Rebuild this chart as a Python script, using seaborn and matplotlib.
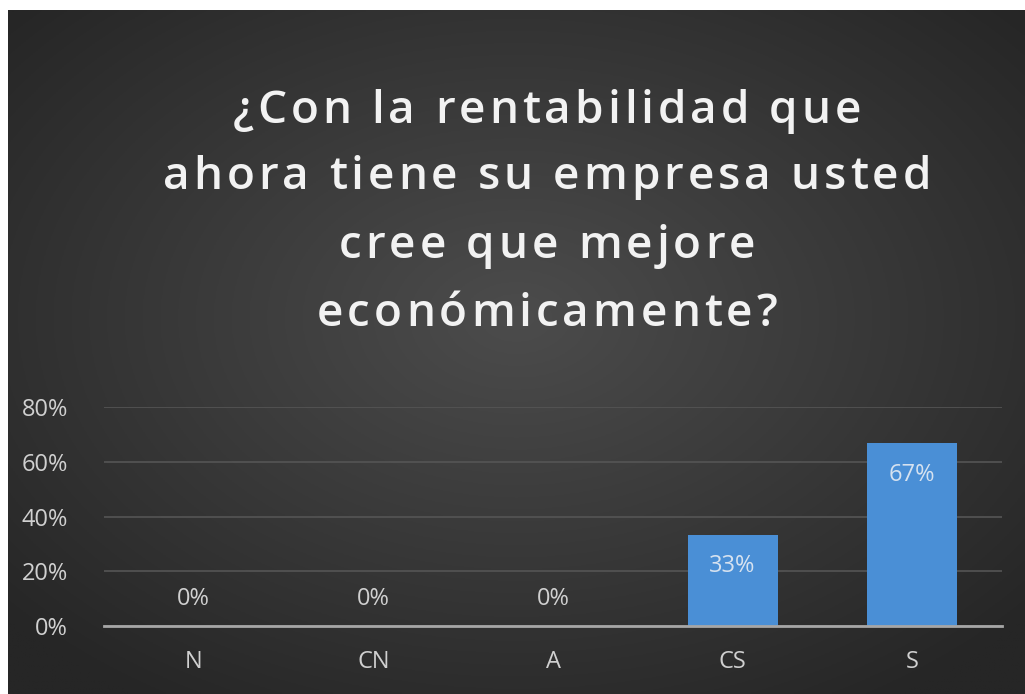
import numpy as np
import matplotlib
matplotlib.use("Agg")
import matplotlib.pyplot as plt
from matplotlib.font_manager import FontProperties
import seaborn as sns
import pandas as pd

# Données du graphique
categorias = ["N", "CN", "A", "CS", "S"]
valores = [0.0, 0.0, 0.0, 0.3333, 0.6667]
etiquetas = ["0%", "0%", "0%", "33%", "67%"]
ticks_y = [0.0, 0.2, 0.4, 0.6, 0.8]
lineas_titulo = ["¿Con la rentabilidad que",
                 "ahora tiene su empresa usted",
                 "cree que mejore",
                 "económicamente?"]

df = pd.DataFrame({"categoria": categorias, "valor": valores})

plt.rcParams['font.family'] = ['Open Sans', 'DejaVu Sans']

W, H = 1025, 694
fig = plt.figure(figsize=(W / 100, H / 100), dpi=100)
fig.patch.set_facecolor("white")

# Fond sombre avec dégradé radial
bg = fig.add_axes([8 / W, 0, 1017 / W, 684 / H])
yy, xx = np.mgrid[-1:1:300j, -1:1:400j]
r = np.sqrt((xx * 0.9) ** 2 + ((yy + 0.1) * 0.9) ** 2)
r = np.clip(r / 1.2, 0, 1)
c_in = np.array([0x4c, 0x4c, 0x4c]) / 255
c_out = np.array([0x26, 0x26, 0x26]) / 255
img = c_in[None, None, :] * (1 - r[..., None]) + c_out[None, None, :] * r[..., None]
bg.imshow(img, aspect="auto", extent=[0, 1, 0, 1])
bg.set_axis_off()

# Zone du graphique
ax = fig.add_axes([104 / W, 1 - 626 / H, 898 / W, 219 / H])
ax.set_facecolor("none")
sns.barplot(data=df, x="categoria", y="valor", color="#4a8fd6", width=0.5,
            saturation=1, ax=ax, zorder=3)

ax.set_ylim(0, 0.8)
ax.set_xlim(-0.5, 4.5)
ax.set_yticks(ticks_y)
ax.set_yticklabels([f"{int(t * 100)}%" for t in ticks_y], color="#d0d0d0", fontsize=17)
ax.tick_params(axis="x", colors="#d0d0d0", labelsize=17, length=0, pad=17)
ax.tick_params(axis="y", length=0, pad=26)
ax.set_xlabel("")
ax.set_ylabel("")
for s in ["top", "right", "left"]:
    ax.spines[s].set_visible(False)
ax.spines["bottom"].set_color("#a6a6a6")
ax.spines["bottom"].set_linewidth(2)
ax.spines["bottom"].set_zorder(4)
ax.yaxis.grid(True, color="#555555", linewidth=1.2, zorder=0)
ax.set_axisbelow(True)

# Étiquettes de valeurs
for i, (v, lab) in enumerate(zip(valores, etiquetas)):
    if v > 0:
        ax.text(i, v - 0.115, lab, ha="center", va="center", color="#d6e2f0", fontsize=17, zorder=5)
    else:
        ax.text(i, 0.1, lab, ha="center", va="center", color="#d0d0d0", fontsize=17, zorder=5)

# Titre avec espacement des lettres
prop = FontProperties(family=['Open Sans', 'DejaVu Sans'], weight="semibold", size=33)
renderer = fig.canvas.get_renderer()
espacio = 4.0
bases = [123, 189, 258, 326]
for linea, yb in zip(lineas_titulo, bases):
    anchos = [renderer.get_text_width_height_descent(c, prop, ismath=False)[0] for c in linea]
    total = sum(anchos) + espacio * (len(linea) - 1)
    x = 547 - total / 2
    for c, w in zip(linea, anchos):
        fig.text(x / W, 1 - yb / H, c, ha="left", va="baseline", color="#f2f2f2",
                 fontproperties=prop)
        x += w + espacio

plt.savefig("out.png", dpi=100)
